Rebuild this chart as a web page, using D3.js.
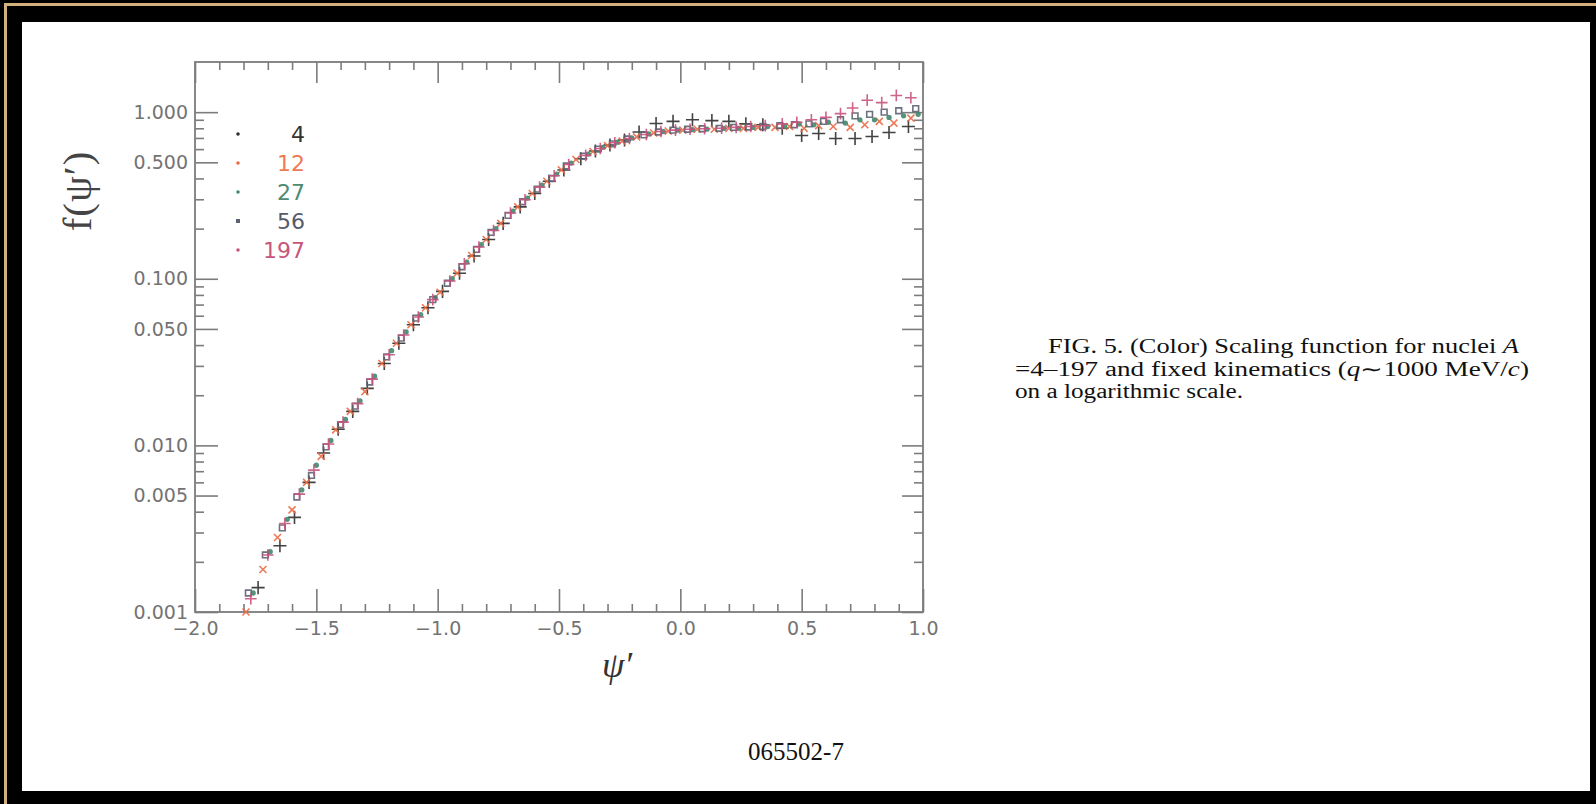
<!DOCTYPE html>
<html>
<head>
<meta charset="utf-8">
<script src="https://cdn.jsdelivr.net/npm/d3@7"></script>
<style>
  html, body { margin: 0; padding: 0; background: #000; }
  svg { display: block; }
</style>
</head>
<body>
<svg id="fig" width="1596" height="804"></svg>
<script>
// ---- scaling function f(psi') for each nucleus A ----
const nuclei = ["4", "12", "27", "56", "197"];

const psi4 = [-1.74,-1.65,-1.59,-1.53,-1.47,-1.41,-1.35,-1.29,-1.22,-1.16,-1.10,-1.04,-0.98,-0.91,-0.85,-0.79,-0.73,-0.66,-0.60,-0.54,-0.48,-0.41,-0.35,-0.29,-0.23,-0.17,-0.10,-0.03,0.05,0.13,0.20,0.27,0.34,0.42,0.50,0.57,0.64,0.72,0.79,0.86,0.94];
const f4   = [0.0014,0.0025,0.0037,0.0060,0.0090,0.0125,0.0160,0.022,0.031,0.041,0.053,0.067,0.084,0.108,0.137,0.172,0.215,0.27,0.325,0.385,0.45,0.525,0.585,0.635,0.68,0.76,0.855,0.88,0.90,0.89,0.88,0.85,0.84,0.80,0.725,0.745,0.695,0.695,0.715,0.755,0.82];

const psi12 = [-1.79,-1.72,-1.66,-1.60,-1.54,-1.48,-1.42,-1.36,-1.30,-1.23,-1.17,-1.11,-1.05,-0.99,-0.92,-0.86,-0.80,-0.74,-0.67,-0.61,-0.55,-0.49,-0.43,-0.36,-0.30,-0.24,-0.18,-0.11,-0.05,0.01,0.07,0.14,0.20,0.26,0.32,0.39,0.45,0.51,0.57,0.63,0.70,0.76,0.82,0.88,0.95];
const f12   = [0.0010,0.0018,0.0028,0.0041,0.0060,0.0086,0.0124,0.0160,0.021,0.031,0.041,0.053,0.067,0.083,0.108,0.138,0.172,0.215,0.27,0.325,0.385,0.45,0.52,0.58,0.63,0.67,0.71,0.75,0.77,0.78,0.79,0.79,0.80,0.80,0.81,0.81,0.82,0.80,0.83,0.82,0.81,0.84,0.88,0.86,0.92];

const psi27 = [-1.76,-1.69,-1.62,-1.56,-1.50,-1.44,-1.38,-1.32,-1.26,-1.19,-1.13,-1.07,-1.01,-0.94,-0.88,-0.82,-0.76,-0.69,-0.63,-0.57,-0.51,-0.45,-0.38,-0.32,-0.26,-0.20,-0.13,-0.07,-0.01,0.05,0.11,0.18,0.24,0.30,0.36,0.43,0.49,0.55,0.61,0.68,0.74,0.80,0.86,0.92,0.98];
const f27   = [0.0013,0.0023,0.0036,0.0054,0.0076,0.0107,0.0143,0.0185,0.026,0.037,0.048,0.061,0.077,0.100,0.126,0.160,0.200,0.255,0.305,0.365,0.425,0.495,0.56,0.615,0.66,0.70,0.74,0.765,0.78,0.785,0.79,0.80,0.80,0.81,0.82,0.82,0.85,0.84,0.87,0.86,0.90,0.90,0.93,0.95,0.97];

const psi56 = [-1.78,-1.71,-1.64,-1.58,-1.52,-1.46,-1.40,-1.34,-1.28,-1.21,-1.15,-1.09,-1.02,-0.96,-0.90,-0.84,-0.78,-0.71,-0.65,-0.59,-0.53,-0.47,-0.40,-0.34,-0.28,-0.22,-0.15,-0.09,-0.03,0.03,0.09,0.16,0.22,0.28,0.34,0.41,0.47,0.53,0.59,0.66,0.72,0.78,0.84,0.90,0.97];
const f56   = [0.0013,0.0022,0.0032,0.0049,0.0066,0.0098,0.0133,0.0172,0.024,0.034,0.044,0.058,0.075,0.094,0.118,0.150,0.19,0.24,0.29,0.345,0.40,0.475,0.545,0.60,0.645,0.69,0.73,0.76,0.78,0.79,0.795,0.80,0.81,0.815,0.82,0.83,0.84,0.85,0.88,0.90,0.95,0.97,1.00,1.02,1.05];

const psi197 = [-1.77,-1.70,-1.63,-1.57,-1.51,-1.45,-1.39,-1.33,-1.27,-1.20,-1.14,-1.08,-1.02,-0.95,-0.89,-0.83,-0.77,-0.70,-0.64,-0.58,-0.52,-0.46,-0.39,-0.33,-0.27,-0.21,-0.14,-0.08,-0.02,0.04,0.10,0.17,0.23,0.29,0.35,0.42,0.48,0.54,0.60,0.66,0.71,0.77,0.83,0.89,0.95];
const f197   = [0.0012,0.0022,0.0034,0.0051,0.0071,0.0102,0.0138,0.0178,0.025,0.035,0.046,0.059,0.075,0.097,0.123,0.155,0.195,0.248,0.298,0.355,0.415,0.485,0.55,0.605,0.655,0.695,0.735,0.765,0.78,0.79,0.795,0.80,0.81,0.82,0.83,0.85,0.87,0.90,0.93,0.98,1.06,1.18,1.14,1.26,1.22];

// axis ticks
const xMajor = [-2.0, -1.5, -1.0, -0.5, 0.0, 0.5, 1.0];
const yMajor = [0.001, 0.005, 0.01, 0.05, 0.1, 0.5, 1.0];

const seriesColors = ["#2e2e2e", "#ea6a44", "#3f8a6c", "#5c6272", "#c9527e"];
const labelColors = ["#333333", "#f07a55", "#4f8a72", "#555b6b", "#c8557a"];
const seriesSymbols = [d3.symbolPlus, d3.symbolTimes, d3.symbolCircle, d3.symbolSquare2, d3.symbolPlus];
const seriesSizes = [58, 34, 22, 42, 46];

const series = nuclei.map((name, i) => {
  const psi = [psi4, psi12, psi27, psi56, psi197][i];
  const f = [f4, f12, f27, f56, f197][i];
  return { name, color: seriesColors[i], label: labelColors[i], symbol: seriesSymbols[i], size: seriesSizes[i],
           points: psi.map((p, j) => ({ psi: p, f: f[j] })) };
});

// ---- page ----
const svg = d3.select("#fig");
svg.append("rect").attr("width", 1596).attr("height", 804).attr("fill", "#000");
svg.append("rect").attr("x", 5.5).attr("y", 4.5).attr("width", 1700).attr("height", 900)
   .attr("fill", "none").attr("stroke", "#d2b07e").attr("stroke-width", 3);
svg.append("rect").attr("x", 22).attr("y", 22).attr("width", 1568).attr("height", 769).attr("fill", "#fff");

// ---- plot ----
const L = 195, R = 923, T = 62, B = 612;
const x = d3.scaleLinear().domain([-2, 1]).range([L, R]);
const y = d3.scaleLog().domain([0.001, 2]).range([B, T]);

const axisColor = "#7c7c7c";
const tickFont = "'DejaVu Sans', sans-serif";

const xMinor = d3.range(-19, 10).map(i => i / 10).filter(v => Math.abs(v * 2 - Math.round(v * 2)) > 1e-6);
const yMinor = [];
[0.001, 0.01, 0.1].forEach(d => { for (let k = 2; k <= 9; k++) { if (k !== 5) yMinor.push(d * k); } });

function styleAxis(g) {
  g.select(".domain").remove();
  g.selectAll(".tick line").attr("stroke", axisColor).attr("stroke-width", 1.6);
  g.selectAll(".tick text").attr("fill", "#737373").attr("font-family", tickFont).attr("font-size", 19);
}

// bottom
svg.append("g").attr("transform", `translate(0,${B})`)
  .call(d3.axisBottom(x).tickValues(xMajor).tickSizeInner(-23).tickSizeOuter(0).tickPadding(10).tickFormat(d3.format(".1f")))
  .call(styleAxis);
svg.append("g").attr("transform", `translate(0,${B})`)
  .call(d3.axisBottom(x).tickValues(xMinor).tickSizeInner(-8).tickSizeOuter(0).tickFormat(""))
  .call(styleAxis);
// top
svg.append("g").attr("transform", `translate(0,${T})`)
  .call(d3.axisTop(x).tickValues(xMajor).tickSizeInner(-21).tickSizeOuter(0).tickFormat(""))
  .call(styleAxis);
svg.append("g").attr("transform", `translate(0,${T})`)
  .call(d3.axisTop(x).tickValues(xMinor).tickSizeInner(-8).tickSizeOuter(0).tickFormat(""))
  .call(styleAxis);
// left
svg.append("g").attr("transform", `translate(${L},0)`)
  .call(d3.axisLeft(y).tickValues(yMajor).tickSizeInner(-23).tickSizeOuter(0).tickPadding(7).tickFormat(d3.format(".3f")))
  .call(styleAxis);
svg.append("g").attr("transform", `translate(${L},0)`)
  .call(d3.axisLeft(y).tickValues(yMinor).tickSizeInner(-9).tickSizeOuter(0).tickFormat(""))
  .call(styleAxis);
// right
svg.append("g").attr("transform", `translate(${R},0)`)
  .call(d3.axisRight(y).tickValues(yMajor).tickSizeInner(-21).tickSizeOuter(0).tickFormat(""))
  .call(styleAxis);
svg.append("g").attr("transform", `translate(${R},0)`)
  .call(d3.axisRight(y).tickValues(yMinor).tickSizeInner(-9).tickSizeOuter(0).tickFormat(""))
  .call(styleAxis);

// frame
svg.append("rect").attr("x", L).attr("y", T).attr("width", R - L).attr("height", B - T)
   .attr("fill", "none").attr("stroke", axisColor).attr("stroke-width", 1.8);

// data points
const layer = svg.append("g");
series.forEach(s => {
  const sym = d3.symbol().type(s.symbol).size(s.size);
  const filled = s.symbol === d3.symbolCircle;
  layer.append("g").selectAll("path").data(s.points).join("path")
    .attr("transform", d => `translate(${x(d.psi)},${y(d.f)})`)
    .attr("d", sym)
    .attr("fill", filled ? s.color : "none")
    .attr("stroke", filled ? "none" : s.color)
    .attr("stroke-width", 1.6)
    .attr("opacity", 0.9);
});

// legend
const legend = svg.append("g");
series.forEach((s, i) => {
  const by = 142 + i * 29;
  legend.append("path")
    .attr("transform", `translate(238,${by - 8})`)
    .attr("d", d3.symbol().type(s.symbol === d3.symbolSquare2 ? d3.symbolSquare : d3.symbolCircle).size(s.symbol === d3.symbolSquare2 ? 16 : 10))
    .attr("fill", s.color);
  legend.append("text")
    .attr("x", 305).attr("y", by)
    .attr("text-anchor", "end")
    .attr("font-family", tickFont).attr("font-size", 22)
    .attr("fill", s.label)
    .text(s.name);
});

// axis titles
svg.append("text")
  .attr("transform", "translate(91,191) rotate(-90)")
  .attr("text-anchor", "middle")
  .attr("font-family", "'Liberation Serif', serif").attr("font-size", 41)
  .attr("letter-spacing", 1)
  .attr("fill", "#444")
  .text("f(ψ′)");
svg.append("text")
  .attr("x", 617).attr("y", 677)
  .attr("text-anchor", "middle")
  .attr("font-family", "'Liberation Serif', serif").attr("font-size", 36).attr("font-style", "italic")
  .attr("fill", "#333")
  .text("ψ′");

// caption
const cap = svg.append("g").attr("font-family", "'Liberation Serif', 'Times New Roman', serif")
  .attr("font-size", 20).attr("fill", "#111");
const l1 = cap.append("text").attr("x", 1048).attr("y", 353).attr("textLength", 471).attr("lengthAdjust", "spacingAndGlyphs");
l1.append("tspan").text("FIG. 5. (Color) Scaling function for nuclei ");
l1.append("tspan").attr("font-style", "italic").text("A");
const l2 = cap.append("text").attr("x", 1015).attr("y", 375.5).attr("textLength", 514).attr("lengthAdjust", "spacingAndGlyphs");
l2.append("tspan").text("=4–197 and fixed kinematics (");
l2.append("tspan").attr("font-style", "italic").text("q");
l2.append("tspan").text("∼1000 MeV/");
l2.append("tspan").attr("font-style", "italic").text("c");
l2.append("tspan").text(")");
cap.append("text").attr("x", 1015).attr("y", 398).attr("textLength", 228).attr("lengthAdjust", "spacingAndGlyphs").text("on a logarithmic scale.");

// page number
svg.append("text").attr("x", 796).attr("y", 760).attr("text-anchor", "middle")
  .attr("font-family", "'Liberation Serif', serif").attr("font-size", 25).attr("fill", "#111")
  .text("065502-7");
</script>
</body>
</html>
